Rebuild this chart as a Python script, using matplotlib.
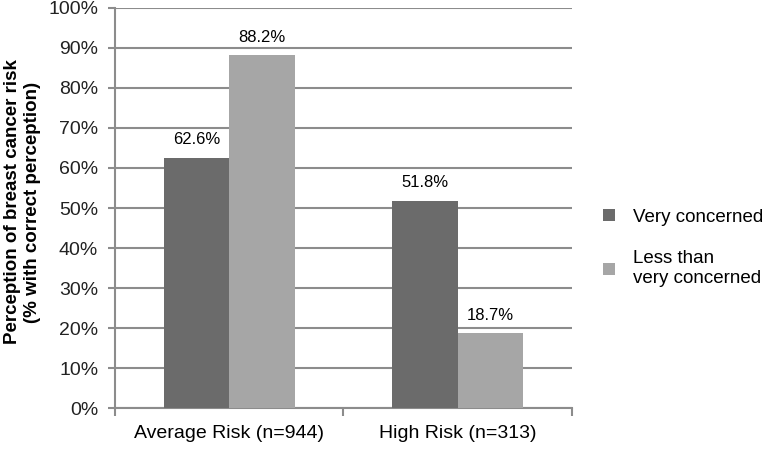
import numpy as np
import matplotlib.pyplot as plt

plt.rcParams['font.family'] = ['Liberation Sans', 'DejaVu Sans']

# Datos
categories = ['Average Risk (n=944)', 'High Risk (n=313)']
series_names = ['Very concerned', 'Less than\nvery concerned']
very_concerned = [62.6, 51.8]
less_concerned = [88.2, 18.7]
colors = ['#6b6b6b', '#a6a6a6']
grid_color = '#8c8c8c'

fig = plt.figure(figsize=(7.71, 4.51), dpi=100)
ax = fig.add_axes([0.149, 0.0953, 0.593, 0.887])

x = np.arange(len(categories))
w = 0.286
b1 = ax.bar(x - w / 2, very_concerned, w, color=colors[0], label=series_names[0], zorder=3)
b2 = ax.bar(x + w / 2, less_concerned, w, color=colors[1], label=series_names[1], zorder=3)

for bars in (b1, b2):
    for r in bars:
        ax.text(r.get_x() + r.get_width() / 2, r.get_height() + 2.6, f'{r.get_height():.1f}%',
                ha='center', va='bottom', fontsize=12)

ax.set_xlim(-0.5, len(categories) - 0.5)
ax.set_ylim(0, 100)
ax.set_yticks(np.arange(0, 101, 10))
ax.set_yticklabels([f'{v}%' for v in range(0, 101, 10)], fontsize=14, color='#222222')
ax.yaxis.grid(True, color=grid_color, linewidth=1.5, zorder=0)

# ticks entre categorias, etiquetas centradas
ax.set_xticks([-0.5, 0.5, 1.5])
ax.set_xticklabels([])
ax.set_xticks(x, minor=True)
ax.set_xticklabels(categories, minor=True, fontsize=14)
ax.tick_params(axis='x', which='major', length=6, width=1.5, color=grid_color, direction='out')
ax.tick_params(axis='x', which='minor', length=0, pad=12)
ax.tick_params(axis='y', length=5, width=1.5, color=grid_color, direction='out', pad=7)

for s in ['top', 'right']:
    ax.spines[s].set_visible(False)
for s in ['left', 'bottom']:
    ax.spines[s].set_color(grid_color)
    ax.spines[s].set_linewidth(1.5)

ax.set_ylabel('Perception of breast cancer risk\n(% with correct perception)',
              fontsize=13.5, fontweight='bold', linespacing=1.2)
ax.yaxis.set_label_coords(-0.162, 0.515)

ax.legend(loc='center left', bbox_to_anchor=(1.052, 0.4), frameon=False, fontsize=13.5,
          handlelength=0.6, handleheight=0.6, labelspacing=1.3, handletextpad=1.0,
          borderaxespad=0)

plt.savefig('out.png', dpi=100)
